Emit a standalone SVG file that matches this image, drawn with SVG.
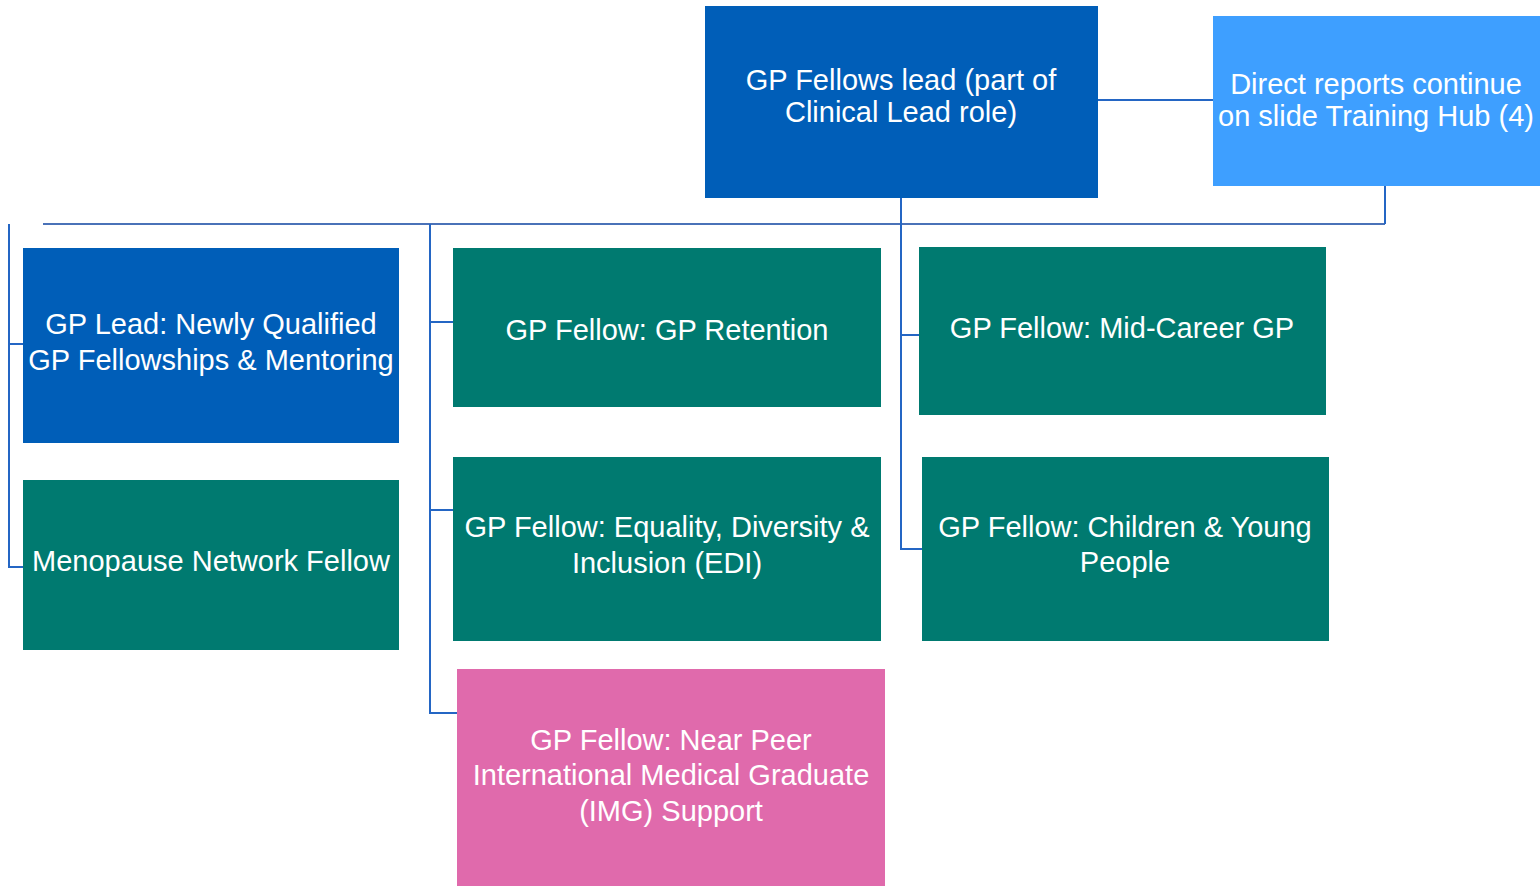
<svg xmlns="http://www.w3.org/2000/svg" width="1540" height="886" viewBox="0 0 1540 886">
<style>
.t{font-family:"Liberation Sans",Arial,sans-serif;font-size:29px;fill:#ffffff;text-anchor:middle}
.c{fill:none;stroke:#2466c4;stroke-width:2}
.bus{fill:none;stroke:#4a72b8;stroke-width:2}
.blue{fill:#005eb8}
.lblue{fill:#3e9fff}
.teal{fill:#007a70}
.pink{fill:#e06aac}
</style>
<rect width="1540" height="886" fill="#ffffff"/>
<g id="connectors">
<path class="bus" d="M43 224H1385"/>
<path class="c" d="M1098 100H1213"/>
<path class="c" d="M1385 186V224"/>
<path class="c" d="M901 198V549H922M901 335H919"/>
<path class="c" d="M430 224V713H457M430 322H453M430 510H453"/>
<path class="c" d="M9 224V567H23M9 344H23"/>
</g>
<g id="n-top">
<rect class="blue" x="705" y="6" width="393" height="192"/>
<text class="t" x="901" y="90">GP Fellows lead (part of</text>
<text class="t" x="901" y="122">Clinical Lead role)</text>
</g>
<g id="n-direct">
<rect class="lblue" x="1213" y="16" width="327" height="170"/>
<text class="t" x="1376" y="94">Direct reports continue</text>
<text class="t" x="1376" y="126">on slide Training Hub (4)</text>
</g>
<g id="n-gplead">
<rect class="blue" x="23" y="248" width="376" height="195"/>
<text class="t" x="211" y="334">GP Lead: Newly Qualified</text>
<text class="t" x="211" y="370">GP Fellowships &amp; Mentoring</text>
</g>
<g id="n-menopause">
<rect class="teal" x="23" y="480" width="376" height="170"/>
<text class="t" x="211" y="571">Menopause Network Fellow</text>
</g>
<g id="n-retention">
<rect class="teal" x="453" y="248" width="428" height="159"/>
<text class="t" x="667" y="340">GP Fellow: GP Retention</text>
</g>
<g id="n-edi">
<rect class="teal" x="453" y="457" width="428" height="184"/>
<text class="t" x="667" y="537">GP Fellow: Equality, Diversity &amp;</text>
<text class="t" x="667" y="573">Inclusion (EDI)</text>
</g>
<g id="n-img">
<rect class="pink" x="457" y="669" width="428" height="217"/>
<text class="t" x="671" y="750">GP Fellow: Near Peer</text>
<text class="t" x="671" y="785">International Medical Graduate</text>
<text class="t" x="671" y="821">(IMG) Support</text>
</g>
<g id="n-midcareer">
<rect class="teal" x="919" y="247" width="407" height="168"/>
<text class="t" x="1122" y="338">GP Fellow: Mid-Career GP</text>
</g>
<g id="n-children">
<rect class="teal" x="922" y="457" width="407" height="184"/>
<text class="t" x="1125" y="537">GP Fellow: Children &amp; Young</text>
<text class="t" x="1125" y="572">People</text>
</g>
</svg>
